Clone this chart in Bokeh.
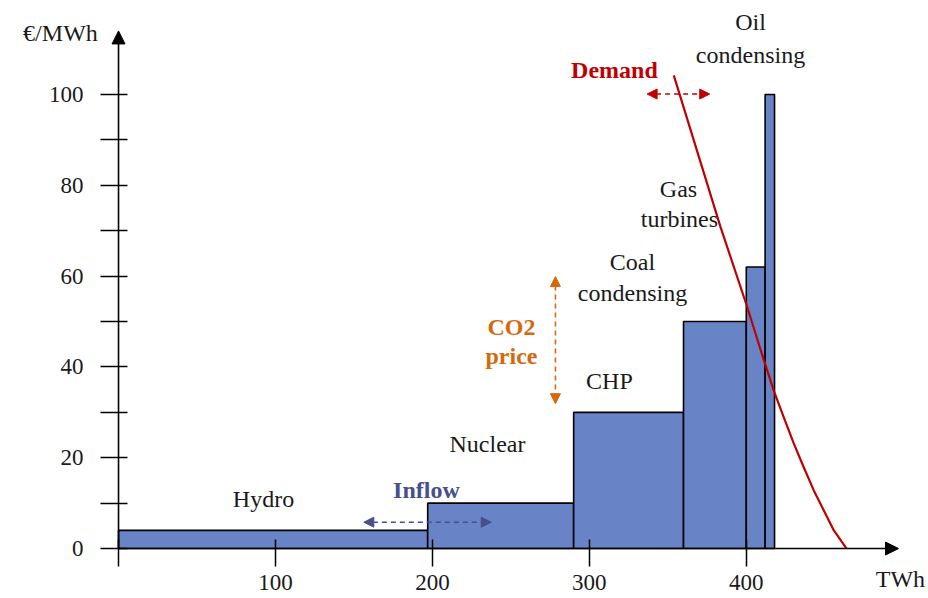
from bokeh.plotting import figure
from bokeh.models import Range1d, FixedTicker, Arrow, NormalHead, ColumnDataSource
from bokeh.core.properties import value
from bokeh.embed import file_html
from bokeh.resources import INLINE

# ---- data ----
technologies = ["Hydro", "Nuclear", "CHP", "Coal condensing", "Gas turbines", "Oil condensing"]
capacity_twh = [197, 93, 70, 40, 12, 6]
cost_eur_mwh = [4, 10, 30, 50, 62, 100]
demand_twh = [353.8, 383.6, 400.6, 411.1, 417.5, 423.9, 430.3, 436.6, 443.0, 449.4, 455.8, 463.9]
demand_price = [104.2, 70.8, 53.2, 41.6, 34.8, 28.9, 23.1, 17.9, 12.8, 8.4, 4.0, 0.0]
x_ticks = [0, 100, 200, 300, 400]
y_ticks = [0, 20, 40, 60, 80, 100]
y_minor_ticks = [10, 30, 50, 70, 90]

lefts, rights = [], []
acc = 0
for c in capacity_twh:
    lefts.append(acc)
    acc += c
    rights.append(acc)

FONT = "Liberation Serif"
BAR = "#6884C6"
RED = "#C00000"
BLUE = "#474F8C"
ORANGE = "#D5690E"
INK = "#1a1a1a"

p = figure(width=928, height=598, x_range=Range1d(-75.2, 516.1), y_range=Range1d(-11.0, 120.7),
           output_backend="svg", toolbar_location=None,
           min_border_left=0, min_border_right=0, min_border_top=0, min_border_bottom=0)
p.outline_line_color = None
p.xgrid.visible = False
p.ygrid.visible = False
p.background_fill_color = "white"
p.border_fill_color = "white"

src = ColumnDataSource(dict(left=lefts, right=rights, top=cost_eur_mwh,
                            bottom=[0] * len(lefts), name=technologies))
p.quad(left="left", right="right", top="top", bottom="bottom", source=src,
       fill_color=BAR, line_color="black", line_width=1.6)

p.line(demand_twh, demand_price, line_color=RED, line_width=2.2, line_join="round")

# axes, crossing at the origin
for ax in (p.xaxis, p.yaxis):
    ax.fixed_location = 0
    ax.axis_line_color = None
    ax.major_tick_in = 9
    ax.major_tick_out = 18
    ax.major_tick_line_color = "black"
    ax.major_tick_line_width = 1.5
    ax.major_label_text_font = FONT
    ax.major_label_text_font_size = "23px"
    ax.major_label_text_color = INK

p.xaxis.ticker = FixedTicker(ticks=x_ticks)
p.xaxis.major_label_overrides = {0: ""}
p.xaxis.minor_tick_line_color = None
p.xaxis.major_label_standoff = 8

p.yaxis.ticker = FixedTicker(ticks=y_ticks, minor_ticks=y_minor_ticks)
p.yaxis.minor_tick_in = 9
p.yaxis.minor_tick_out = 18
p.yaxis.minor_tick_line_color = "black"
p.yaxis.minor_tick_line_width = 1.5
p.yaxis.major_label_standoff = 17

# axis lines with arrowheads
p.add_layout(Arrow(end=NormalHead(size=13, fill_color="black", line_color="black"),
                   x_start=0, y_start=0, x_end=497, y_end=0, line_width=1.6, line_color="black"))
p.add_layout(Arrow(end=NormalHead(size=13, fill_color="black", line_color="black"),
                   x_start=0, y_start=0, x_end=0, y_end=114, line_width=1.6, line_color="black"))

# dashed double arrows
def dbl_arrow(x0, y0, x1, y1, color):
    p.add_layout(Arrow(start=NormalHead(size=10, fill_color=color, line_color=color),
                       end=NormalHead(size=10, fill_color=color, line_color=color),
                       x_start=x0, y_start=y0, x_end=x1, y_end=y1,
                       line_color=color, line_width=1.6, line_dash="5 4"))

dbl_arrow(336.8, 100.1, 376.7, 100.1, RED)
dbl_arrow(156.3, 5.8, 237.5, 5.8, BLUE)
dbl_arrow(278.4, 59.9, 278.4, 31.9, ORANGE)

# text labels
def txt(x, y, s, color=INK, bold=False, size="24px"):
    p.text(x=[x], y=[y], text=[s], text_font=value(FONT), text_font_size=size,
           text_color=color, text_align="center", text_baseline="middle",
           text_font_style="bold" if bold else "normal")

txt(92.4, 11.0, "Hydro")
txt(196.2, 12.8, "Inflow", BLUE, True)
txt(235.1, 23.1, "Nuclear")
txt(312.8, 36.8, "CHP")
txt(250.4, 48.7, "CO2", ORANGE, True)
txt(250.4, 42.3, "price", ORANGE, True)
txt(327.5, 63.0, "Coal")
txt(327.5, 56.2, "condensing")
txt(356.8, 79.1, "Gas")
txt(357.4, 72.5, "turbines")
txt(316.0, 105.3, "Demand", RED, True)
txt(402.7, 115.9, "Oil")
txt(402.7, 108.6, "condensing")
txt(-37.0, 113.6, "€/MWh")
txt(498.2, -6.6, "TWh")

open("out.html", "w").write(file_html(p, INLINE))
